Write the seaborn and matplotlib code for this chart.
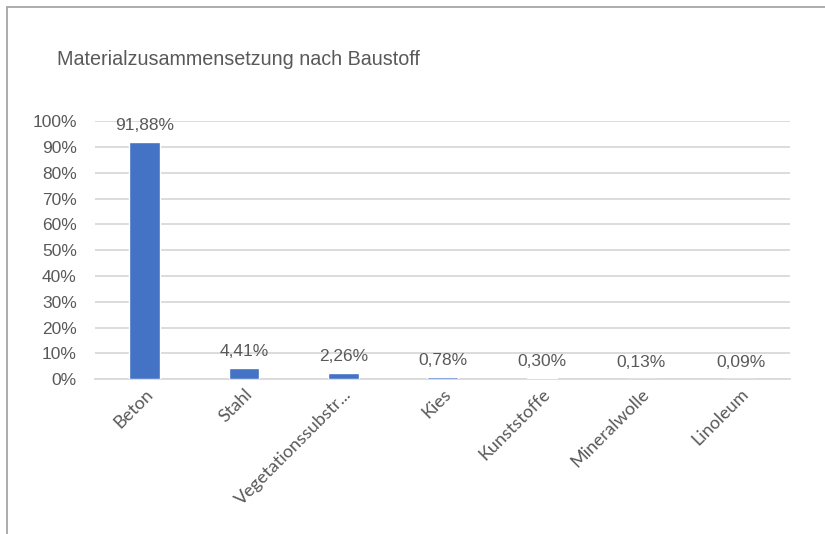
import matplotlib
matplotlib.use("Agg")
import matplotlib.pyplot as plt
from matplotlib.lines import Line2D
import seaborn as sns
import pandas as pd

# Material shares by building material
materials = ["Beton", "Stahl", "Vegetationssubstr...", "Kies", "Kunststoffe", "Mineralwolle", "Linoleum"]
shares = [91.88, 4.41, 2.26, 0.78, 0.30, 0.13, 0.09]
y_ticks = [0, 10, 20, 30, 40, 50, 60, 70, 80, 90, 100]
title = "Materialzusammensetzung nach Baustoff"

df = pd.DataFrame({"Baustoff": materials, "Anteil": shares})

sns.set_theme(style="white")
plt.rcParams["font.family"] = ["Liberation Sans", "DejaVu Sans"]

text_gray = "#595959"
grid_gray = "#D9D9D9"
bar_blue = "#4472C4"

fig = plt.figure(figsize=(8.25, 5.34), dpi=100)
ax = fig.add_axes([0.115, 0.290, 0.843, 0.483])

sns.barplot(data=df, x="Baustoff", y="Anteil", color=bar_blue, width=0.31,
            saturation=1, ax=ax, zorder=3)

ax.set_ylim(0, 100)
ax.set_xlim(-0.5, len(materials) - 0.5)
ax.set_yticks(y_ticks)
ax.set_yticklabels([f"{t}%" for t in y_ticks], color=text_gray, fontsize=12.5)
ax.yaxis.grid(True, color=grid_gray, linewidth=1.3, zorder=0)
ax.tick_params(axis="y", length=0, pad=13)
ax.tick_params(axis="x", length=0, pad=5)

for lbl in ax.get_xticklabels():
    lbl.set_rotation(45)
    lbl.set_ha("right")
    lbl.set_rotation_mode("anchor")
    lbl.set_family(["Lato", "DejaVu Sans"])
    lbl.set_fontsize(13)
    lbl.set_color(text_gray)

ax.set_xlabel("")
ax.set_ylabel("")

for s in ["top", "right", "left"]:
    ax.spines[s].set_visible(False)
ax.spines["bottom"].set_color(grid_gray)
ax.spines["bottom"].set_linewidth(1.3)

for i, v in enumerate(shares):
    ax.annotate(f"{v:.2f}%".replace(".", ","), (i, v), xytext=(0, 12),
                textcoords="offset points", ha="center", va="center",
                fontsize=12.5, color=text_gray, zorder=4)

fig.text(0.069, 0.888, title, fontsize=14.2, color=text_gray, ha="left", va="center")

# Frame edges on the left and top of the figure
fig.add_artist(Line2D([0.008, 0.008], [0, 0.987], color="#A6A6A6", linewidth=1.3,
                      transform=fig.transFigure))
fig.add_artist(Line2D([0.008, 1.0], [0.987, 0.987], color="#A6A6A6", linewidth=1.3,
                      transform=fig.transFigure))

fig.savefig("out.png", dpi=100, facecolor="white")
